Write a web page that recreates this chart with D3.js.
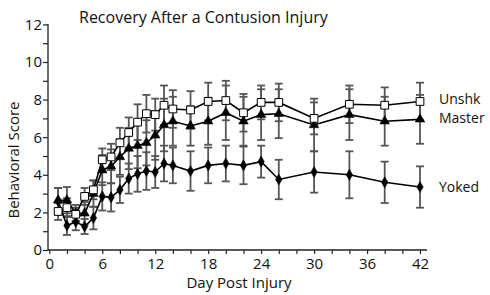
<!DOCTYPE html>
<html>
<head>
<meta charset="utf-8">
<script src="https://cdn.jsdelivr.net/npm/d3@7"></script>
<style>
  body { margin: 0; background: #fff; }
  text { font-family: "Open Sans", "Noto Sans", sans-serif; fill: #111; }
</style>
</head>
<body>
<div id="chart"></div>
<script>
// data
var days = [1,2,3,4,5,6,7,8,9,10,11,12,13,14,16,18,20,22,24,26,30,34,38,42];
var unshk = [2.05,2.25,1.9,2.85,3.2,4.8,4.95,5.7,6.25,6.8,7.25,7.2,7.7,7.5,7.45,7.9,7.95,7.3,7.85,7.85,7.0,7.75,7.7,7.9];
var unshkErr = [0.45,0.5,0.35,0.45,0.5,0.6,0.7,0.8,0.8,0.95,1.0,0.85,1.05,1.0,1.0,1.0,1.05,1.0,0.9,1.0,0.85,1.0,0.95,1.0];
var master = [2.65,2.65,1.95,1.95,3.0,4.25,4.45,4.95,5.4,5.55,5.7,6.1,6.65,6.85,6.6,6.85,7.3,6.85,7.2,7.25,6.65,7.2,6.85,6.95];
var masterErr = [0.65,0.7,0.45,0.6,0.7,0.8,0.9,0.95,1.1,1.2,1.2,1.3,1.4,1.3,1.05,1.25,1.45,1.3,1.35,1.3,1.4,1.35,1.3,1.3];
var yoked = [2.6,1.3,1.5,1.25,1.7,2.85,2.8,3.2,3.8,4.05,4.2,4.15,4.6,4.5,4.2,4.5,4.6,4.5,4.7,3.75,4.15,4.0,3.6,3.35];
var yokedErr = [0.7,0.5,0.45,0.4,0.6,0.75,0.75,0.7,0.8,0.95,1.0,0.85,0.95,0.95,1.05,0.95,0.95,1.0,0.85,1.05,1.1,1.25,1.1,1.1];
var xTicks = d3.range(0, 43, 2);
var yTicks = d3.range(0, 13, 1);
var seriesNames = ["Unshk", "Master", "Yoked"];

function chart() {
  var w = 490;
  var h = 295;

  var x = d3.scaleLinear().domain([0, 42]).range([49.3, 420]);
  var y = d3.scaleLinear().domain([0, 12]).range([250, 24.4]);

  var svg = d3.select("#chart")
              .append("svg")
              .attr("width", w)
              .attr("height", h);

  // x axis, labels only every 6 days
  var xAxis = d3.axisBottom(x)
                .tickValues(xTicks)
                .tickSize(4)
                .tickSizeOuter(0)
                .tickFormat(function(d) { return d % 6 === 0 ? d : ""; });
  var gx = svg.append("g")
              .attr("transform", "translate(0,250)")
              .call(xAxis);
  gx.select(".domain").remove();
  gx.append("line")
    .attr("x1", 48).attr("x2", 427)
    .attr("stroke", "#222").attr("stroke-width", 1.3);
  gx.selectAll(".tick line").attr("stroke", "#222").attr("stroke-width", 1.2);
  gx.selectAll(".tick text")
    .attr("y", 8)
    .style("font-size", "15px")
    .style("font-family", "'Open Sans', sans-serif")
    .attr("fill", "#111");

  // y axis, labels every 2
  var yAxis = d3.axisLeft(y)
                .tickValues(yTicks)
                .tickSize(5)
                .tickSizeOuter(0)
                .tickFormat(function(d) { return d % 2 === 0 ? d : ""; });
  var gy = svg.append("g")
              .attr("transform", "translate(48,0)")
              .call(yAxis);
  gy.select(".domain").remove();
  gy.append("line")
    .attr("y1", 24).attr("y2", 250.6)
    .attr("stroke", "#222").attr("stroke-width", 1.3);
  gy.selectAll(".tick line").attr("stroke", "#222").attr("stroke-width", 1.2);
  gy.selectAll(".tick text")
    .attr("x", -6)
    .style("font-size", "15px")
    .style("font-family", "'Open Sans', sans-serif")
    .attr("fill", "#111");

  // titles
  svg.append("text")
     .attr("x", 79).attr("y", 23)
     .style("font-size", "16px")
     .text("Recovery After a Contusion Injury");
  svg.append("text")
     .attr("x", 239).attr("y", 288)
     .attr("text-anchor", "middle")
     .style("font-size", "15px")
     .text("Day Post Injury");
  svg.append("text")
     .attr("transform", "translate(19,160) rotate(-90)")
     .attr("text-anchor", "middle")
     .style("font-size", "15px")
     .text("Behavioral Score");

  var series = [
    { name: seriesNames[0], vals: unshk, err: unshkErr, shape: "square" },
    { name: seriesNames[1], vals: master, err: masterErr, shape: "triangle" },
    { name: seriesNames[2], vals: yoked, err: yokedErr, shape: "diamond" }
  ];

  // error bars first
  series.forEach(function(s) {
    var g = svg.append("g").attr("stroke", "#555").attr("stroke-width", 1.8);
    days.forEach(function(d, i) {
      var top = y(s.vals[i] + s.err[i]);
      var bot = y(s.vals[i] - s.err[i]);
      g.append("line").attr("x1", x(d)).attr("x2", x(d)).attr("y1", top).attr("y2", bot);
      g.append("line").attr("x1", x(d) - 4).attr("x2", x(d) + 4).attr("y1", top).attr("y2", top);
      g.append("line").attr("x1", x(d) - 4).attr("x2", x(d) + 4).attr("y1", bot).attr("y2", bot);
    });
  });

  var line = d3.line()
               .x(function(d, i) { return x(days[i]); })
               .y(function(d) { return y(d); });

  // lines, yoked at the back
  series.slice().reverse().forEach(function(s) {
    svg.append("path")
       .datum(s.vals)
       .attr("d", line)
       .attr("fill", "none")
       .attr("stroke", "#000")
       .attr("stroke-width", 1.6);
  });

  var symbols = {
    square: d3.symbol().type(d3.symbolSquare).size(60),
    triangle: d3.symbol().type(d3.symbolTriangle).size(40),
    diamond: d3.symbol().type(d3.symbolDiamond).size(36)
  };

  series.slice().reverse().forEach(function(s) {
    svg.append("g")
       .selectAll("path")
       .data(s.vals)
       .enter()
       .append("path")
       .attr("transform", function(d, i) { return "translate(" + x(days[i]) + "," + y(d) + ")"; })
       .attr("d", symbols[s.shape])
       .attr("fill", s.shape === "square" ? "#fff" : "#000")
       .attr("stroke", "#000")
       .attr("stroke-width", s.shape === "square" ? 1 : 0.5);
  });

  // series labels at right
  var labelY = [104, 123, 192];
  svg.selectAll(".lbl")
     .data(series)
     .enter()
     .append("text")
     .attr("class", "lbl")
     .attr("x", 439)
     .attr("y", function(d, i) { return labelY[i]; })
     .style("font-size", "14px")
     .text(function(d) { return d.name; });
}

window.onload = function() {
  chart();
};
</script>
</body>
</html>
